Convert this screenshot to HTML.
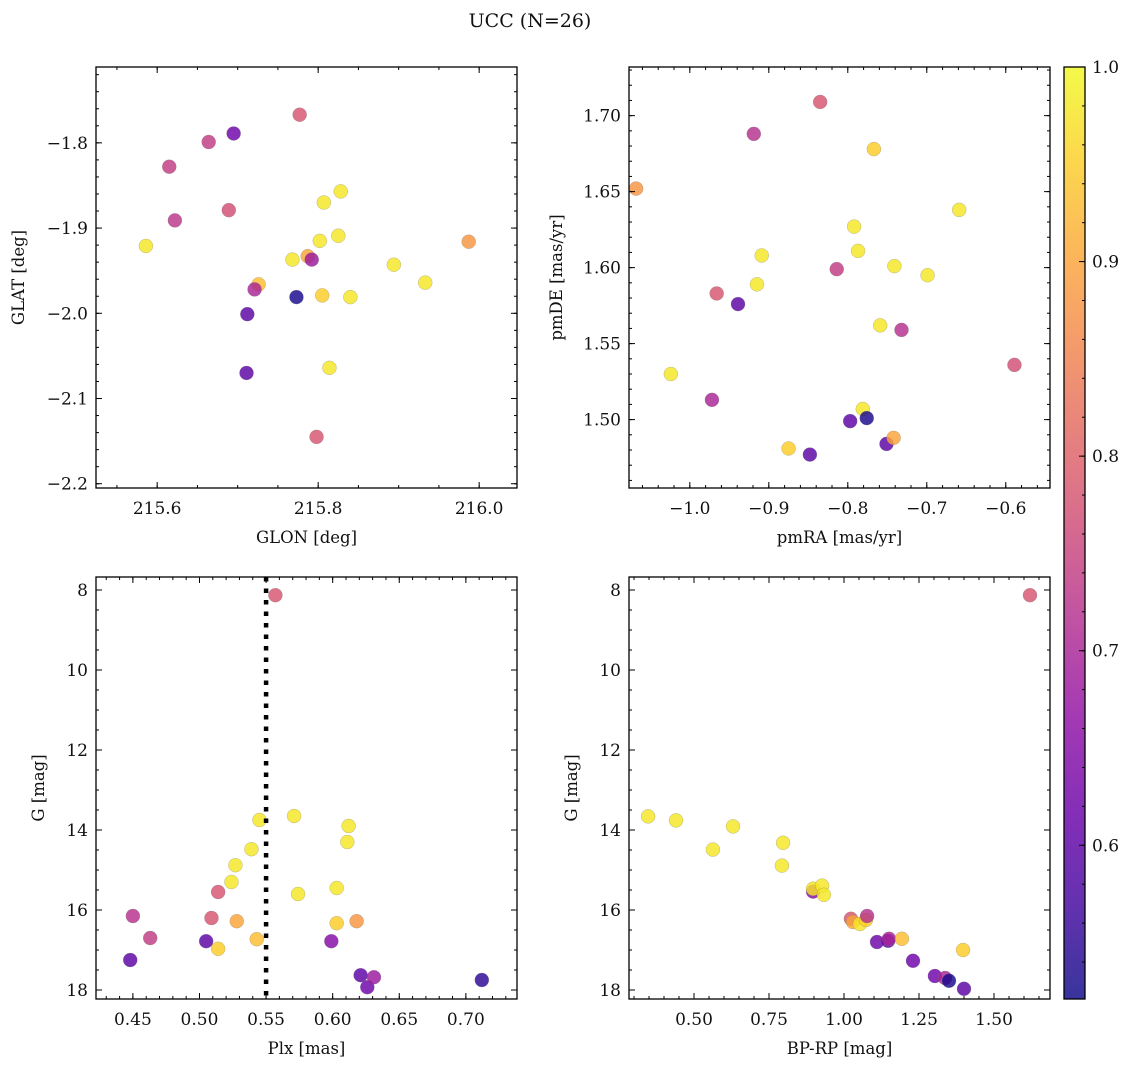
<!DOCTYPE html>
<html><head><meta charset="utf-8"><title>UCC (N=26)</title>
<style>
html,body{margin:0;padding:0;background:#fff;}
svg text{font-family:"DejaVu Serif","Liberation Serif",serif;fill:#111;}
</style></head>
<body>
<svg id="fig" width="1136" height="1067" viewBox="0 0 1136 1067" xmlns="http://www.w3.org/2000/svg">
<text x="530" y="27" font-size="19" text-anchor="middle">UCC (N=26)</text>
</svg>
<script>
// ---- data: membership probability per star (shared color scale)
const probMin = 0.521, probMax = 1.0;
// Panel 1: GLON / GLAT
const glon = [215.586,215.615,215.622,215.664,215.695,215.689,215.777,215.726,215.721,215.712,215.711,215.773,215.768,215.787,215.792,215.802,215.807,215.805,215.828,215.825,215.840,215.814,215.798,215.894,215.933,215.987];
const glat = [-1.921,-1.828,-1.891,-1.799,-1.789,-1.879,-1.767,-1.966,-1.972,-2.001,-2.070,-1.981,-1.937,-1.933,-1.937,-1.915,-1.870,-1.979,-1.857,-1.909,-1.981,-2.064,-2.145,-1.943,-1.964,-1.916];
const prob1 = [0.98,0.74,0.73,0.74,0.62,0.77,0.78,0.93,0.70,0.60,0.60,0.53,0.98,0.90,0.68,0.98,0.98,0.95,0.98,0.98,0.98,0.98,0.78,0.98,0.98,0.88];
// Panel 2: pmRA / pmDE
const pmra = [-1.068,-1.024,-0.972,-0.966,-0.939,-0.919,-0.915,-0.909,-0.875,-0.848,-0.814,-0.835,-0.767,-0.792,-0.787,-0.797,-0.781,-0.776,-0.759,-0.751,-0.742,-0.741,-0.732,-0.699,-0.659,-0.589];
const pmde = [1.652,1.530,1.513,1.583,1.576,1.688,1.589,1.608,1.481,1.477,1.599,1.709,1.678,1.627,1.611,1.499,1.507,1.501,1.562,1.484,1.488,1.601,1.559,1.595,1.638,1.536];
const prob2 = [0.88,0.98,0.70,0.78,0.60,0.72,0.98,0.98,0.95,0.60,0.74,0.78,0.95,0.98,0.98,0.60,0.98,0.53,0.98,0.60,0.90,0.98,0.72,0.98,0.98,0.77];
// Panel 3: Plx / G
const plx = [0.557,0.450,0.463,0.448,0.505,0.509,0.514,0.514,0.524,0.527,0.528,0.539,0.543,0.545,0.571,0.574,0.599,0.603,0.603,0.612,0.611,0.618,0.621,0.626,0.631,0.712];
const gmag3 = [8.13,16.15,16.7,17.25,16.78,16.2,15.55,16.97,15.3,14.88,16.28,14.48,16.73,13.75,13.65,15.6,16.78,16.33,15.45,13.9,14.3,16.28,17.63,17.93,17.68,17.75];
const prob3 = [0.78,0.72,0.74,0.60,0.60,0.78,0.78,0.95,0.98,0.98,0.90,0.98,0.93,0.98,0.98,0.98,0.65,0.95,0.98,0.98,0.98,0.88,0.60,0.62,0.68,0.55];
const plxLine = 0.55;
// Panel 4: BP-RP / G
const bprp = [1.62,0.347,0.44,0.563,0.63,0.797,0.793,0.897,0.897,0.927,0.933,1.023,1.03,1.053,1.073,1.077,1.11,1.147,1.15,1.193,1.23,1.303,1.337,1.35,1.40,1.397];
const gmag4 = [8.13,13.66,13.76,14.49,13.91,14.32,14.89,15.54,15.47,15.39,15.62,16.22,16.3,16.35,16.25,16.15,16.8,16.77,16.72,16.72,17.27,17.65,17.7,17.77,17.97,17.0];
const prob4 = [0.78,0.98,0.98,0.98,0.98,0.98,0.98,0.65,0.98,0.98,0.98,0.78,0.90,0.98,0.95,0.72,0.62,0.60,0.70,0.93,0.62,0.62,0.70,0.53,0.60,0.95];
// tick labels
const glonTicks = [215.6,215.8,216.0];
const glatTicks = [-1.8,-1.9,-2.0,-2.1,-2.2];
const pmraTicks = [-1.0,-0.9,-0.8,-0.7,-0.6];
const pmdeTicks = [1.50,1.55,1.60,1.65,1.70];
const plxTicks = [0.45,0.50,0.55,0.60,0.65,0.70];
const gTicks = [8,10,12,14,16,18];
const bprpTicks = [0.50,0.75,1.00,1.25,1.50];
const cbTicks = [0.6,0.7,0.8,0.9,1.0];

const NS='http://www.w3.org/2000/svg';
const fig=document.getElementById('fig');
function mk(tag,attrs,parent){const e=document.createElementNS(NS,tag);for(const k in attrs)e.setAttribute(k,attrs[k]);(parent||fig).appendChild(e);return e;}
const plasma=[[13,8,135],[65,4,157],[106,0,168],[143,13,164],[177,42,144],[204,71,120],[225,100,98],[242,132,75],[252,166,54],[252,206,37],[240,249,33]];
function cmap(v){let t=(v-probMin)/(probMax-probMin);t=Math.max(0,Math.min(1,t));const s=t*10,i=Math.min(9,Math.floor(s)),f=s-i;const a=plasma[i],b=plasma[i+1];return 'rgb('+a.map((c,k)=>Math.round(c+(b[k]-c)*f)).join(',')+')';}
function fmt(v,d){const s=Math.abs(v).toFixed(d);return (v<0?'\u2212':'')+s;}

function panel(o){
  const g=mk('g',{});
  
  
  const {L,R,T,B}=o;
  const sx=v=>L+(v-o.x0)/(o.x1-o.x0)*(R-L);
  const sy=o.invert? v=>T+(v-o.y0)/(o.y1-o.y0)*(B-T) : v=>B-(v-o.y0)/(o.y1-o.y0)*(B-T);
  for(let i=0;i<o.xs.length;i++){
    const c=mk('circle',{cx:sx(o.xs[i]),cy:sy(o.ys[i]),r:7,fill:cmap(o.cs[i]),'fill-opacity':0.82,stroke:'#777','stroke-width':0.4,'stroke-opacity':0.6},g);
    
    
  }
  if(o.vline!==undefined){
    const l=mk('line',{x1:sx(o.vline),x2:sx(o.vline),y1:T,y2:B,stroke:'#000','stroke-width':4.5,'stroke-dasharray':'4.5,7'},g);
    
    
  }
  const fr=mk('rect',{x:L,y:T,width:R-L,height:B-T,fill:'none',stroke:'#000','stroke-width':1.3},g);
  
  
  const xmin=Math.ceil(o.x0/o.xm-1e-6),xmax=Math.floor(o.x1/o.xm+1e-6);
  for(let k=xmin;k<=xmax;k++){const x=sx(k*o.xm);mk('line',{x1:x,x2:x,y1:B,y2:B-3,stroke:'#000'},g);mk('line',{x1:x,x2:x,y1:T,y2:T+3,stroke:'#000'},g);}
  o.xt.forEach(v=>{const x=sx(v);mk('line',{x1:x,x2:x,y1:B,y2:B-6,stroke:'#000'},g);mk('line',{x1:x,x2:x,y1:T,y2:T+6,stroke:'#000'},g);
    const t=mk('text',{x:x,y:B+26,'font-size':17,'text-anchor':'middle'},g);t.textContent=fmt(v,o.xd);
    });
  const ymin=Math.ceil(Math.min(o.y0,o.y1)/o.ym-1e-6),ymax=Math.floor(Math.max(o.y0,o.y1)/o.ym+1e-6);
  for(let k=ymin;k<=ymax;k++){const y=sy(k*o.ym);mk('line',{x1:L,x2:L+3,y1:y,y2:y,stroke:'#000'},g);mk('line',{x1:R,x2:R-3,y1:y,y2:y,stroke:'#000'},g);}
  o.yt.forEach(v=>{const y=sy(v);mk('line',{x1:L,x2:L+6,y1:y,y2:y,stroke:'#000'},g);mk('line',{x1:R,x2:R-6,y1:y,y2:y,stroke:'#000'},g);
    const t=mk('text',{x:L-8,y:y+6,'font-size':17,'text-anchor':'end'},g);t.textContent=fmt(v,o.yd);
    });
  const xl=mk('text',{x:(L+R)/2,y:B+55,'font-size':16.5,'text-anchor':'middle'},g);xl.textContent=o.xlab;
  
  const yl=mk('text',{x:0,y:0,'font-size':16.5,'text-anchor':'middle',transform:'translate('+(o.ylx)+','+((T+B)/2)+') rotate(-90)'},g);yl.textContent=o.ylab;
  
}
panel({name:'glon-glat-panel',L:96,R:517,T:67,B:488,x0:215.524,x1:216.047,y0:-2.205,y1:-1.711,xs:glon,ys:glat,cs:prob1,xm:0.05,ym:0.02,xt:glonTicks,yt:glatTicks,xd:1,yd:1,xlab:'GLON [deg]',ylab:'GLAT [deg]',ylx:24});
panel({name:'pmra-pmde-panel',L:629,R:1050,T:67,B:488,x0:-1.077,x1:-0.544,y0:1.455,y1:1.732,xs:pmra,ys:pmde,cs:prob2,xm:0.02,ym:0.01,xt:pmraTicks,yt:pmdeTicks,xd:1,yd:2,xlab:'pmRA [mas/yr]',ylab:'pmDE [mas/yr]',ylx:562});
panel({name:'plx-g-panel',L:96,R:517,T:577,B:999,x0:0.4223,x1:0.7384,y0:7.675,y1:18.225,invert:true,xs:plx,ys:gmag3,cs:prob3,xm:0.01,ym:0.5,xt:plxTicks,yt:gTicks,xd:2,yd:0,xlab:'Plx [mas]',ylab:'G [mag]',ylx:44,vline:plxLine});
panel({name:'bprp-g-panel',L:629,R:1050,T:577,B:999,x0:0.2833,x1:1.6867,y0:7.675,y1:18.225,invert:true,xs:bprp,ys:gmag4,cs:prob4,xm:0.05,ym:0.5,xt:bprpTicks,yt:gTicks,xd:2,yd:0,xlab:'BP-RP [mag]',ylab:'G [mag]',ylx:577});

(function(){
  const L=1064,R=1085,T=67,B=999;
  const g=mk('g',{});
  
  
  const defs=mk('defs',{},g);
  const gr=mk('linearGradient',{id:'cbg',x1:0,y1:1,x2:0,y2:0},defs);
  for(let i=0;i<=20;i++){const v=probMin+(probMax-probMin)*i/20;mk('stop',{offset:(i/20),'stop-color':cmap(v),'stop-opacity':0.82},gr);}
  mk('rect',{x:L,y:T,width:R-L,height:B-T,fill:'url(#cbg)',stroke:'#000','stroke-width':1.3},g);
  const sy=v=>B-(v-probMin)/(probMax-probMin)*(B-T);
  for(let k=Math.ceil(probMin/0.02);k<=50;k++){const y=sy(k*0.02);mk('line',{x1:R,x2:R-3,y1:y,y2:y,stroke:'#000'},g);}
  cbTicks.forEach(v=>{const y=sy(v);mk('line',{x1:R,x2:R-6,y1:y,y2:y,stroke:'#000'},g);
    const t=mk('text',{x:R+7,y:y+6,'font-size':17},g);t.textContent=v.toFixed(1);
    });
})();
</script>
</body></html>
